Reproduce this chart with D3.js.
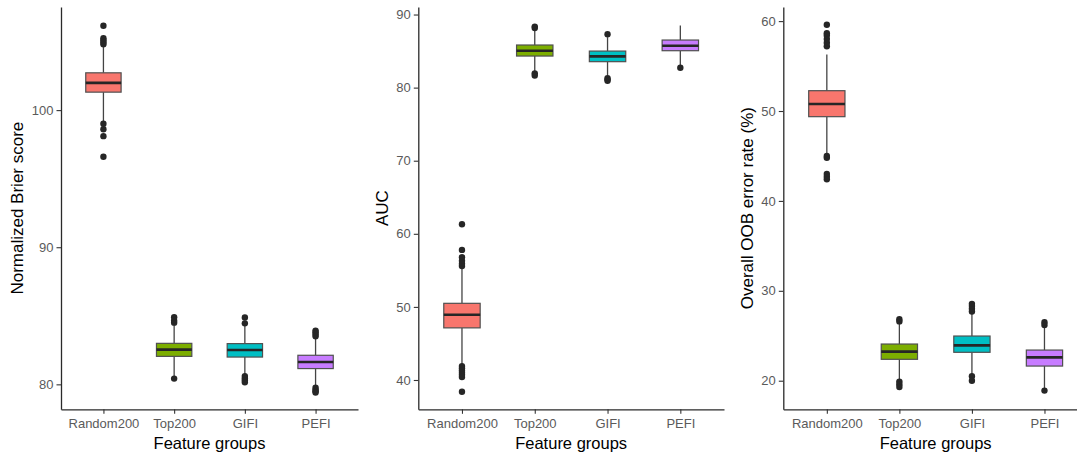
<!DOCTYPE html>
<html>
<head>
<meta charset="utf-8">
<script src="https://cdn.jsdelivr.net/npm/d3@7"></script>
<style>
  html, body { margin: 0; padding: 0; background: #fff; }
  svg { display: block; font-family: "Liberation Sans", Arial, sans-serif; }
</style>
</head>
<body>
<svg id="chart" width="1077" height="454"></svg>
<script>
// ---------- data ----------
const categories = ["Random200", "Top200", "GIFI", "PEFI"];
const colors = ["#F8766D", "#7CAE00", "#00BFC4", "#C77CFF"];

// rows: [whiskerLow, Q1, median, Q3, whiskerHigh]
const brierBoxes = [
  [99.2, 101.31, 101.99, 102.72, 104.6],
  [80.6, 82.04, 82.53, 82.99, 84.35],
  [80.7, 81.99, 82.5, 82.97, 84.3],
  [79.85, 81.15, 81.63, 82.12, 83.4]
];
const brierOutliers = [
  [104.8, 104.95, 105.1, 105.25, 106.15, 99.0, 98.6, 98.1, 96.6],
  [84.5, 84.65, 84.9, 80.42],
  [84.45, 84.87, 80.6, 80.45, 80.3, 80.15],
  [83.5, 83.65, 83.8, 83.92, 79.75, 79.6, 79.5, 79.4]
];
const brierTicks = [80, 90, 100];

const aucBoxes = [
  [42.2, 47.13, 48.92, 50.49, 55.4],
  [82.2, 84.32, 85.05, 85.83, 87.9],
  [81.5, 83.55, 84.28, 85.0, 86.9],
  [83.0, 85.05, 85.73, 86.51, 88.5]
];
const aucOutliers = [
  [55.6, 55.9, 56.3, 56.8, 57.8, 61.3, 41.9, 41.6, 41.3, 41.0, 40.7, 40.4, 38.4],
  [88.15, 88.35, 81.95, 81.65],
  [87.3, 81.3, 81.1, 80.95],
  [82.72]
];
const aucTicks = [40, 50, 60, 70, 80, 90];

const oobBoxes = [
  [45.3, 49.37, 50.78, 52.26, 56.3],
  [20.1, 22.38, 23.23, 24.08, 26.4],
  [20.7, 23.16, 23.93, 24.97, 27.5],
  [19.1, 21.63, 22.6, 23.41, 26.0]
];
const oobOutliers = [
  [57.2, 57.6, 58.0, 58.4, 58.65, 59.6, 45.0, 44.8, 43.0, 42.7, 42.4],
  [26.6, 26.85, 19.9, 19.6, 19.3],
  [27.7, 28.0, 28.3, 28.55, 20.5, 20.0],
  [26.2, 26.5, 18.9]
];
const oobTicks = [20, 30, 40, 50, 60];

const yTitles = ["Normalized Brier score", "AUC", "Overall OOB error rate (%)"];
const xTitle = "Feature groups";

// ---------- layout ----------
const panels = [
  { boxes: brierBoxes, outliers: brierOutliers, ticks: brierTicks, title: yTitles[0],
    x0: 61, x1: 358, domain: [78.18, 107.52], titleX: 17 },
  { boxes: aucBoxes, outliers: aucOutliers, ticks: aucTicks, title: yTitles[1],
    x0: 418.3, x1: 724, domain: [35.99, 91.03], titleX: 381.7 },
  { boxes: oobBoxes, outliers: oobOutliers, ticks: oobTicks, title: yTitles[2],
    x0: 783.3, x1: 1088, domain: [16.82, 61.57], titleX: 746.7 }
];
const yTop = 7, yBot = 409.3;

const svg = d3.select("#chart");

panels.forEach(p => {
  const g = svg.append("g");
  const x = d3.scalePoint().domain(categories).range([p.x0, p.x1]).padding(0.6);
  const y = d3.scaleLinear().domain(p.domain).range([yBot, yTop]);
  const bw = x.step() * 0.5;

  // boxes
  categories.forEach((c, i) => {
    const [lo, q1, med, q3, hi] = p.boxes[i];
    const cx = x(c);
    const bg = g.append("g");
    bg.append("line").attr("x1", cx).attr("x2", cx).attr("y1", y(q3)).attr("y2", y(hi))
      .attr("stroke", "#444").attr("stroke-width", 1.3);
    bg.append("line").attr("x1", cx).attr("x2", cx).attr("y1", y(q1)).attr("y2", y(lo))
      .attr("stroke", "#444").attr("stroke-width", 1.3);
    bg.append("rect").attr("x", cx - bw / 2).attr("width", bw)
      .attr("y", y(q3)).attr("height", y(q1) - y(q3))
      .attr("fill", colors[i]).attr("stroke", "#505050").attr("stroke-width", 1.2);
    bg.append("line").attr("x1", cx - bw / 2).attr("x2", cx + bw / 2)
      .attr("y1", y(med)).attr("y2", y(med))
      .attr("stroke", "#262626").attr("stroke-width", 2.6);
    bg.selectAll("circle").data(p.outliers[i]).join("circle")
      .attr("cx", cx).attr("cy", d => y(d)).attr("r", 3.2)
      .attr("fill", "#262626");
  });

  // axes
  const yAxis = g.append("g").attr("transform", `translate(${p.x0},0)`)
    .call(d3.axisLeft(y).tickValues(p.ticks).tickSize(4.5).tickSizeOuter(0).tickPadding(3));
  const xAxis = g.append("g").attr("transform", `translate(0,${yBot})`)
    .call(d3.axisBottom(x).tickSize(4.5).tickSizeOuter(0).tickPadding(5));
  [yAxis, xAxis].forEach(a => {
    a.select(".domain").attr("stroke", "#2a2a2a").attr("stroke-width", 1.3);
    a.selectAll(".tick line").attr("stroke", "#333").attr("stroke-width", 1.1);
    a.selectAll(".tick text").attr("fill", "#5a5a5a").attr("font-size", "13px")
      .attr("font-family", "'Liberation Sans', Arial, sans-serif");
  });

  // titles
  g.append("text").attr("x", (p.x0 + p.x1) / 2).attr("y", 448.5)
    .attr("text-anchor", "middle").attr("font-size", "16.5px").attr("fill", "#000")
    .text(xTitle);
  g.append("text")
    .attr("transform", `translate(${p.titleX},${(yTop + yBot) / 2}) rotate(-90)`)
    .attr("text-anchor", "middle").attr("dy", "0.36em")
    .attr("font-size", "17px").attr("fill", "#000")
    .text(p.title);
});
</script>
</body>
</html>
